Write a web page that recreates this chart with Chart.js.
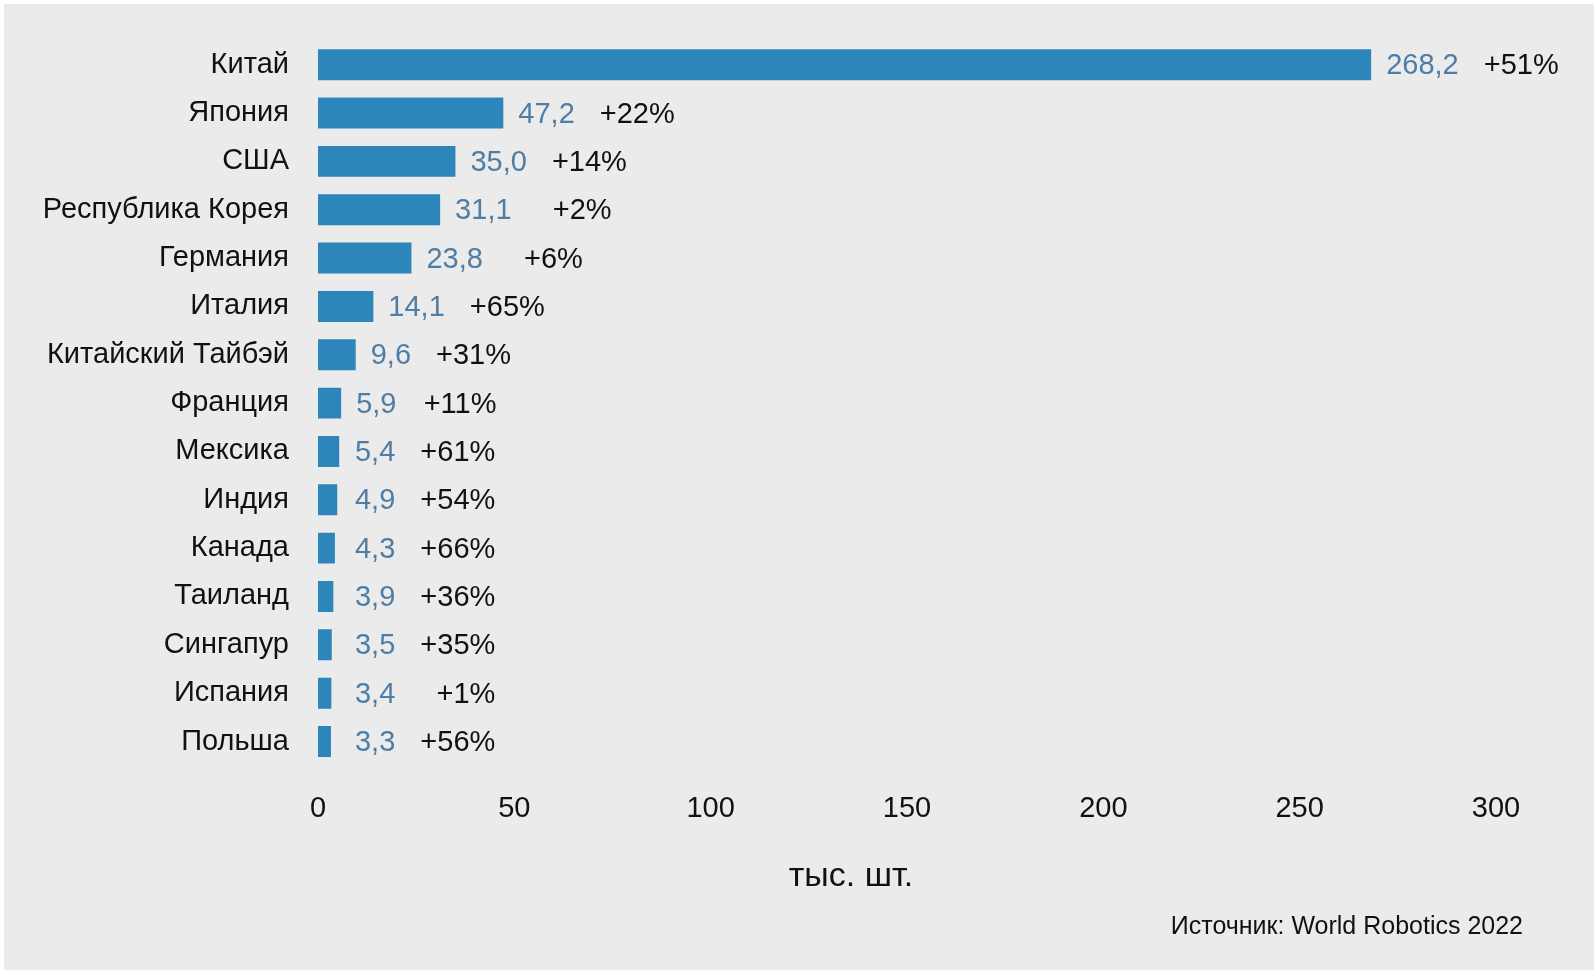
<!DOCTYPE html>
<html lang="ru">
<head>
<meta charset="utf-8">
<title>Установки промышленных роботов</title>
<script src="https://cdn.jsdelivr.net/npm/chart.js@4.4.1/dist/chart.umd.min.js"></script>
<style>
  html, body { margin: 0; padding: 0; background: #ffffff; }
  #panel {
    position: absolute;
    left: 4px;
    top: 4px;
    width: 1590px;
    height: 966px;
    background: #ebebeb;
  }
</style>
</head>
<body>
<div id="panel"><canvas id="robots-chart" width="1590" height="966"></canvas></div>
<script>
const countries = [
  'Китай', 'Япония', 'США', 'Республика Корея', 'Германия', 'Италия',
  'Китайский Тайбэй', 'Франция', 'Мексика', 'Индия', 'Канада', 'Таиланд',
  'Сингапур', 'Испания', 'Польша'
];
const installs = [268.2, 47.2, 35.0, 31.1, 23.8, 14.1, 9.6, 5.9, 5.4, 4.9, 4.3, 3.9, 3.5, 3.4, 3.3];
const growth = ['+51%', '+22%', '+14%', '+2%', '+6%', '+65%', '+31%', '+11%', '+61%', '+54%', '+66%', '+36%', '+35%', '+1%', '+56%'];
const xTicks = [0, 50, 100, 150, 200, 250, 300];
const unitLabel = 'тыс. шт.';
const sourceLabel = 'Источник: World Robotics 2022';

const FONT = '"Liberation Sans", Arial, sans-serif';
const BAR_COLOR = '#2c86b9';
const VALUE_COLOR = '#4e7ea5';

function formatValue(v) {
  return v.toFixed(1).replace('.', ',');
}

// value + growth labels next to each bar, plus unit and source captions
const labelsPlugin = {
  id: 'barLabels',
  afterDatasetsDraw(chart) {
    const ctx = chart.ctx;
    const x = chart.scales.x;
    const y = chart.scales.y;
    ctx.save();
    ctx.font = '29px ' + FONT;
    ctx.textBaseline = 'middle';
    installs.forEach((v, i) => {
      const cy = y.getPixelForValue(i) + 1.5;
      const start = x.getPixelForValue(Math.max(v, 5.6)) + 15;
      const txt = formatValue(v);
      ctx.fillStyle = VALUE_COLOR;
      ctx.textAlign = 'left';
      ctx.fillText(txt, start, cy);
      const end = start + ctx.measureText(txt).width;
      ctx.fillStyle = '#111111';
      ctx.textAlign = 'right';
      ctx.fillText(growth[i], end + 100, cy);
    });
    ctx.fillStyle = '#111111';
    ctx.textAlign = 'center';
    ctx.font = '34px ' + FONT;
    ctx.fillText(unitLabel, 847, 873);
    ctx.textAlign = 'right';
    ctx.font = '25px ' + FONT;
    ctx.fillText(sourceLabel, 1519, 923);
    ctx.restore();
  }
};

const ctx = document.getElementById('robots-chart').getContext('2d');
new Chart(ctx, {
  type: 'bar',
  data: {
    labels: countries,
    datasets: [{
      data: installs,
      backgroundColor: BAR_COLOR,
      borderWidth: 0,
      categoryPercentage: 1,
      barPercentage: 0.64
    }]
  },
  options: {
    indexAxis: 'y',
    responsive: false,
    animation: false,
    layout: { padding: { top: 36.5, right: 98, left: 0, bottom: 0 } },
    plugins: {
      legend: { display: false },
      tooltip: { enabled: false }
    },
    scales: {
      x: {
        min: 0,
        max: 300,
        afterBuildTicks: (scale) => { scale.ticks = xTicks.map(v => ({ value: v })); },
        afterFit: (scale) => { scale.height = 204.3; },
        grid: { display: false, drawTicks: false },
        border: { display: false },
        ticks: {
          color: '#111111',
          padding: 25.5,
          font: { family: FONT, size: 29 }
        }
      },
      y: {
        afterFit: (scale) => {
          scale.width = 314;
          scale.paddingTop = 0;
          scale.paddingBottom = 0;
        },
        grid: { display: false, drawTicks: false },
        border: { display: false },
        ticks: {
          color: '#111111',
          padding: 29,
          font: { family: FONT, size: 29 }
        }
      }
    }
  },
  plugins: [labelsPlugin]
});
</script>
</body>
</html>
